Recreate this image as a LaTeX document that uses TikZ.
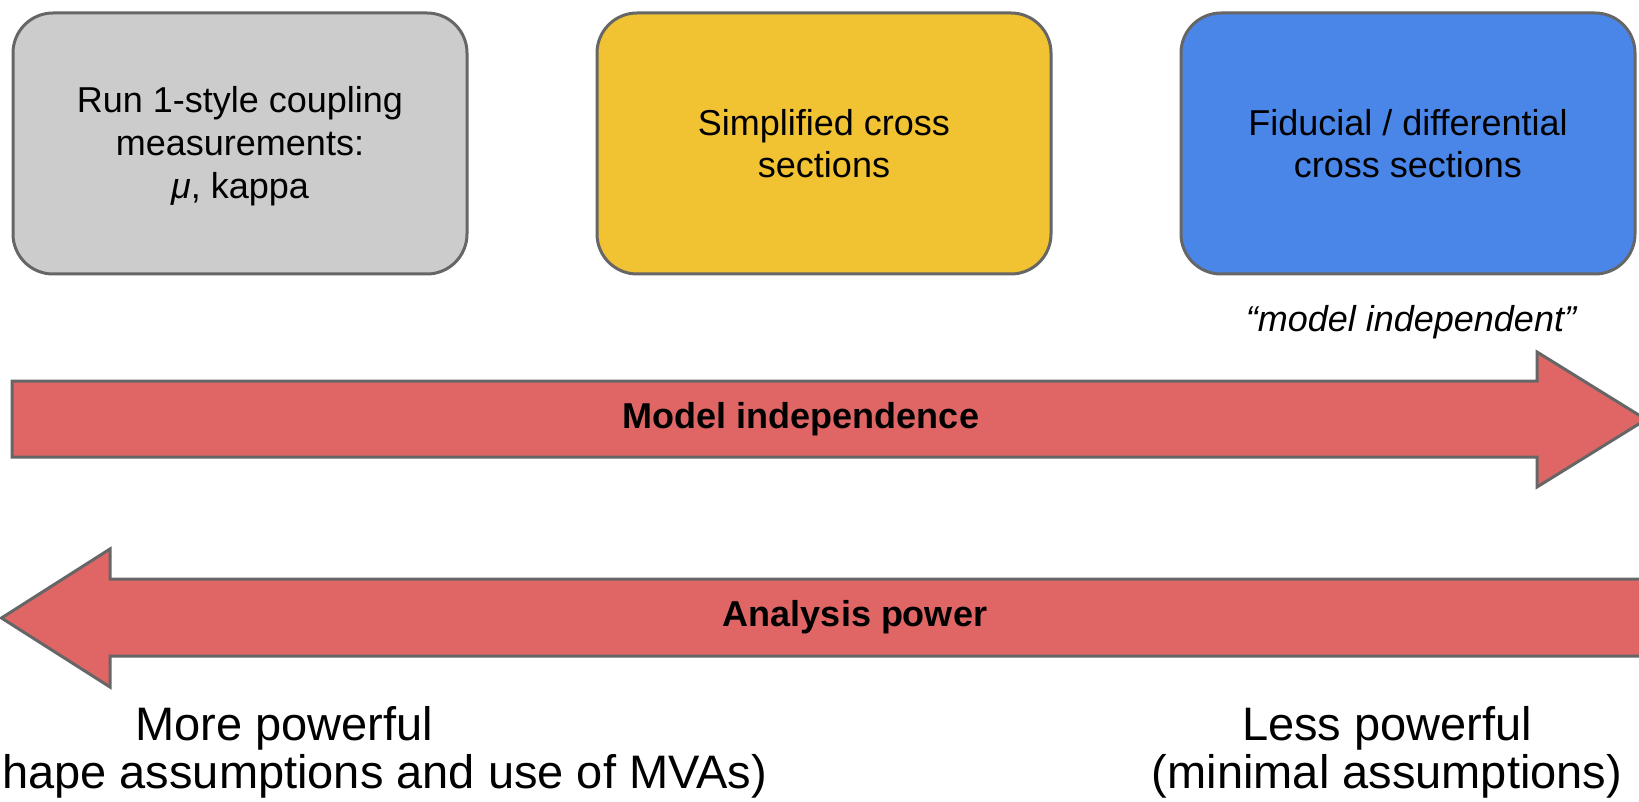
\documentclass[tikz,border=0pt]{standalone}
\usepackage{fontspec}
\setmainfont{Liberation Sans}
\definecolor{boxgray}{HTML}{CCCCCC}
\definecolor{boxyellow}{HTML}{F1C232}
\definecolor{boxblue}{HTML}{4A86E8}
\definecolor{arrowred}{HTML}{E06666}
\definecolor{bordergray}{HTML}{666666}
\begin{document}
\begin{tikzpicture}[x=1pt,y=-1pt,
  stagebox/.style={draw=bordergray, line width=3pt, rounded corners=40pt,
    minimum width=454pt, minimum height=261pt, inner sep=0pt, align=center,
    font=\fontsize{36}{42}\selectfont},
  arrowshape/.style={draw=bordergray, fill=arrowred, line width=3pt, line join=miter},
  arrowlabel/.style={font=\fontsize{36}{42}\selectfont\bfseries, inner sep=0pt},
  bottomtext/.style={font=\fontsize{47}{47}\selectfont, inner sep=0pt, anchor=base}
]
\useasboundingbox (0,0) rectangle (1639,802);
\clip (0,0) rectangle (1639,802);

% stage boxes
\node[stagebox, fill=boxgray, font=\fontsize{36}{43}\selectfont] (run1) at (240,143.5)
  {\rule{0pt}{32pt}Run 1-style coupling\\measurements:\\\textit{μ}, kappa};
\node[stagebox, fill=boxyellow] (stxs) at (824,143.5)
  {Simplified cross\\sections};
\node[stagebox, fill=boxblue] (fid) at (1408,143.5)
  {Fiducial / differential\\cross sections};

\node[font=\fontsize{36}{42}\selectfont\itshape, inner sep=0pt] (mi) at (1411,322)
  {“model independent”};

% arrows
\draw[arrowshape] (12,381) -- (1537,381) -- (1537,352) -- (1646,419.5)
  -- (1537,487) -- (1537,457) -- (12,457) -- cycle;
\node[arrowlabel] (modelind) at (801,419) {Model independence};

\draw[arrowshape] (1660,579) -- (110,579) -- (110,549) -- (1.5,618)
  -- (110,687) -- (110,656) -- (1660,656) -- cycle;
\node[arrowlabel] (power) at (855,617) {Analysis power};

% bottom text
\node[bottomtext] (more) at (284,740) {More powerful};
\node[bottomtext, anchor=base east] (moreb) at (767,788) {(shape assumptions and use of MVAs)};
\node[bottomtext] (less) at (1387,740) {Less powerful};
\node[bottomtext] (lessb) at (1387,788) {(minimal assumptions)};
\end{tikzpicture}
\end{document}
